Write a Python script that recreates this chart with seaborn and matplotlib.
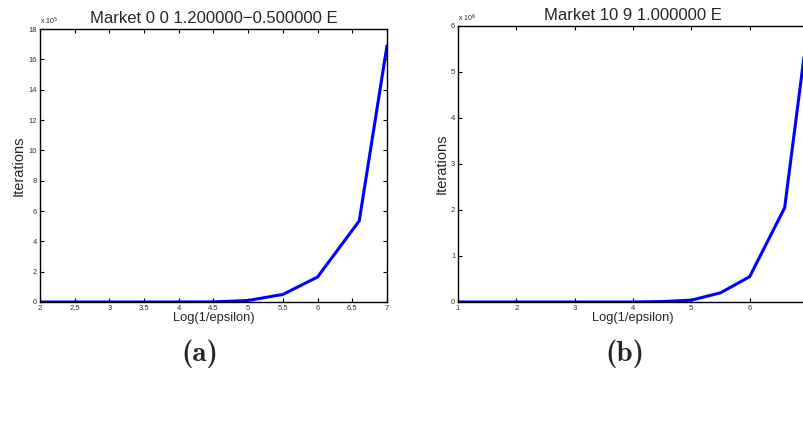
import matplotlib
matplotlib.use("Agg")
import matplotlib.pyplot as plt
import seaborn as sns
import pandas as pd

# Left panel: Market 0 0 1.200000-0.500000 E (iterations in units of 1e5)
left_eps = [2, 2.5, 3, 3.5, 4, 4.5, 5, 5.5, 6, 6.6, 7]
left_iters = [0.0, 0.0, 0.0, 0.0, 0.0, 0.01, 0.1, 0.5, 1.65, 5.35, 16.9]
left_xticks = [2, 2.5, 3, 3.5, 4, 4.5, 5, 5.5, 6, 6.5, 7]
left_xlabels = ["2", "2.5", "3", "3.5", "4", "4.5", "5", "5.5", "6", "6.5", "7"]
left_yticks = [0, 2, 4, 6, 8, 10, 12, 14, 16, 18]

# Right panel: Market 10 9 1.000000 E (iterations in units of 1e6)
right_eps = [1, 1.5, 2, 2.5, 3, 3.5, 4, 4.5, 5, 5.5, 6, 6.6, 7]
right_iters = [0.0, 0.0, 0.0, 0.0, 0.0, 0.0, 0.0, 0.01, 0.04, 0.2, 0.55, 2.05, 6.0]
right_xticks = [1, 2, 3, 4, 5, 6, 7]
right_xlabels = ["1", "2", "3", "4", "5", "6", ""]  # the 7 falls off the page edge
right_yticks = [0, 1, 2, 3, 4, 5, 6]

sns.set_style("ticks")
plt.rcParams['font.family'] = ['Liberation Sans', 'DejaVu Sans']

fig = plt.figure(figsize=(8.04, 4.48), dpi=100)
ax_l = fig.add_axes([40 / 804, 146 / 448, 347 / 804, 273 / 448])
ax_r = fig.add_axes([458 / 804, 146 / 448, 350 / 804, 276 / 448])

panels = [
    (ax_l, left_eps, left_iters, left_xticks, left_xlabels, left_yticks, (2, 7), (0, 18),
     "Market 0 0 1.200000\u22120.500000 E", "5"),
    (ax_r, right_eps, right_iters, right_xticks, right_xlabels, right_yticks, (1, 7), (0, 6),
     "Market 10 9 1.000000 E", "6"),
]

for ax, xs, ys, xt, xl, yt, xlim, ylim, title, power in panels:
    df = pd.DataFrame({"eps": xs, "iters": ys})
    sns.lineplot(data=df, x="eps", y="iters", color="#0000ff", linewidth=2.2, ax=ax)
    ax.set_xlim(*xlim)
    ax.set_ylim(*ylim)
    ax.set_xticks(xt)
    ax.set_yticks(yt)
    ax.set_xticklabels(xl)
    ax.set_yticklabels([f"{v:g}" for v in yt])
    ax.tick_params(direction="in", length=3, width=0.8, labelsize=5.5, pad=2,
                   top=True, right=True, colors="black", labelcolor="#333333")
    for sp in ax.spines.values():
        sp.set_visible(True)
        sp.set_linewidth(1.0)
        sp.set_color("black")
    ax.set_title(title, fontsize=12, pad=4)
    ax.set_xlabel("Log(1/epsilon)", fontsize=9.3, labelpad=0)
    ax.set_ylabel("Iterations", fontsize=10.5, labelpad=2)
    ax.text(0.0, 1.008, "x 10$^{" + power + "}$", transform=ax.transAxes,
            fontsize=5, ha="left", va="bottom")

fig.text(200 / 804, 1 - 354 / 448, "(a)", fontsize=21, family="cmb10", ha="center", va="center")
fig.text(625 / 804, 1 - 354 / 448, "(b)", fontsize=21, family="cmb10", ha="center", va="center")

fig.savefig("out.png", dpi=100)
